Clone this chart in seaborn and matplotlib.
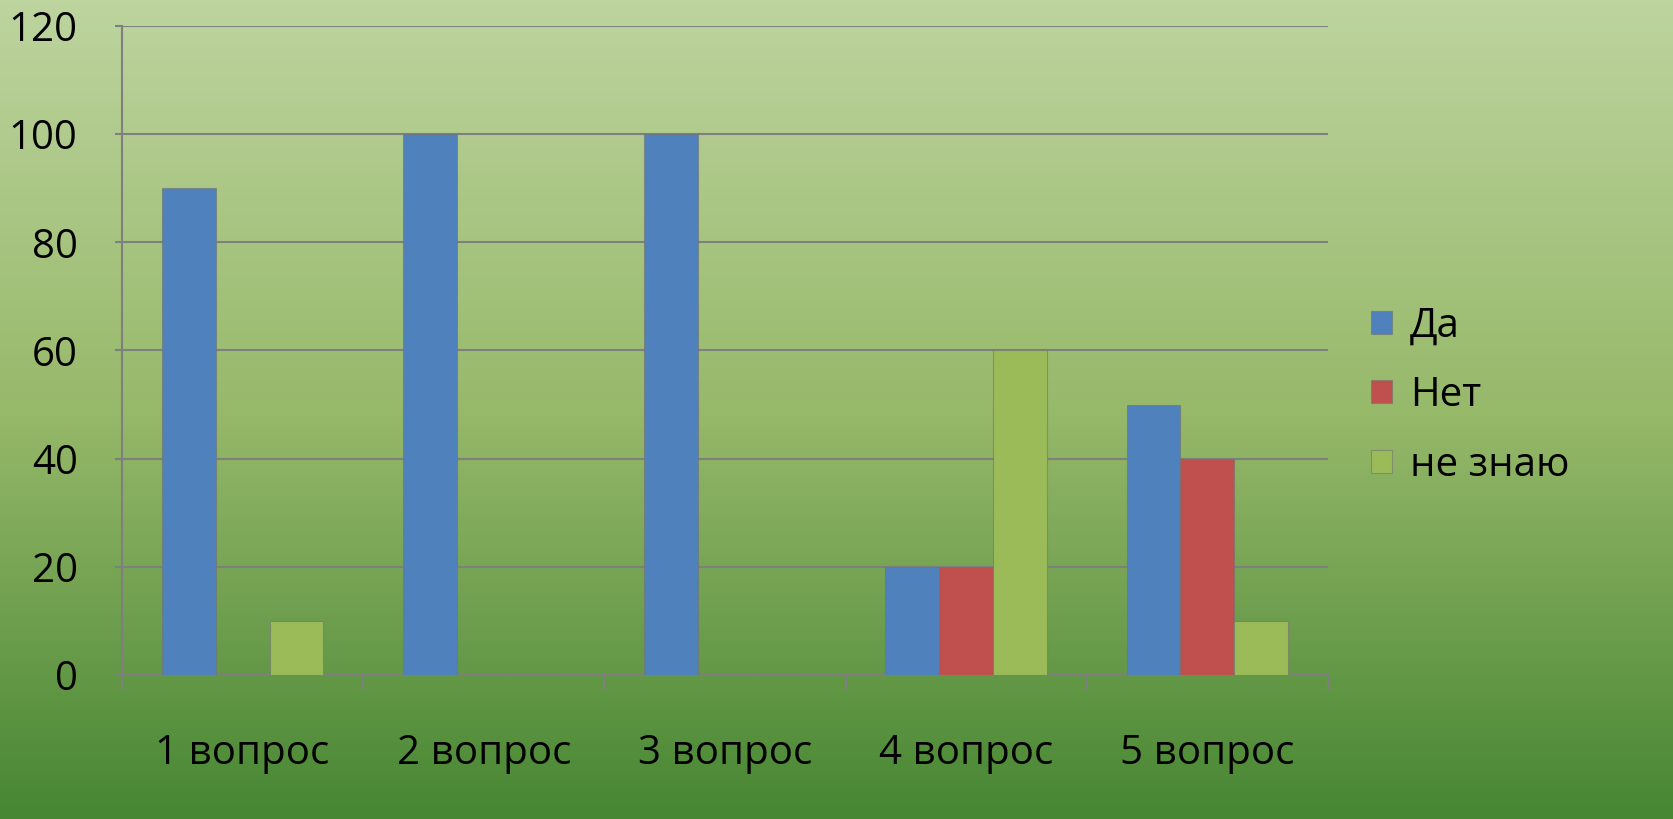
import numpy as np
import pandas as pd
import matplotlib
matplotlib.use("Agg")
import matplotlib.pyplot as plt
from matplotlib.colors import LinearSegmentedColormap
import seaborn as sns

# survey answers, percent
questions = ["1 вопрос", "2 вопрос", "3 вопрос", "4 вопрос", "5 вопрос"]
answers = ["Да", "Нет", "не знаю"]
yes_values = [90, 100, 100, 20, 50]
no_values = [0, 0, 0, 20, 40]
dunno_values = [10, 0, 0, 60, 10]
y_ticks = [0, 20, 40, 60, 80, 100, 120]

palette = ["#4f81bd", "#c0504d", "#9bbb59"]

df = pd.DataFrame({
    "question": questions * 3,
    "answer": [a for a in answers for _ in questions],
    "value": yes_values + no_values + dunno_values,
})

sns.set_theme(style="white")
plt.rcParams["font.family"] = ["Open Sans", "DejaVu Sans"]
plt.rcParams["text.color"] = "black"

fig = plt.figure(figsize=(16.73, 8.19), dpi=100)

# gradient backdrop, light green at top to dark green at bottom
bg = fig.add_axes([0, 0, 1, 1], zorder=-10)
grad = LinearSegmentedColormap.from_list("bg", ["#bdd49f", "#97b96a", "#478633"])
bg.imshow(np.linspace(0, 1, 256).reshape(-1, 1), aspect="auto", cmap=grad,
          extent=[0, 1, 0, 1], origin="upper")
bg.set_axis_off()

ax = fig.add_axes([0.0729, 0.1758, 0.7209, 0.7925])
ax.set_facecolor("none")

sns.barplot(data=df, x="question", y="value", hue="answer", hue_order=answers,
            palette=palette, width=0.67, saturation=1, ax=ax,
            edgecolor=(0.45, 0.45, 0.45, 0.6), linewidth=0.8, zorder=3)

ax.set_ylim(0, 120)
ax.set_xlim(-0.5, len(questions) - 0.5)
ax.set_yticks(y_ticks)
ax.set_yticklabels([str(t) for t in y_ticks])
ax.yaxis.grid(True, color="#7f7f7f", linewidth=1.5, zorder=0)
ax.set_axisbelow(True)

# tick marks between categories, labels centred under groups
ax.set_xticks(np.arange(-0.5, len(questions), 1.0))
ax.set_xticklabels([""] * (len(questions) + 1))
ax.set_xticks(np.arange(len(questions)), minor=True)
ax.set_xticklabels(questions, minor=True)
ax.tick_params(axis="x", which="major", length=11, width=1.5, color="#7f7f7f", bottom=True)
ax.tick_params(axis="x", which="minor", length=0, pad=42, labelsize=29, colors="black")
ax.tick_params(axis="y", length=5, width=1.5, color="#7f7f7f", left=True, pad=27,
               labelsize=29, labelcolor="black")

for side in ["top", "right"]:
    ax.spines[side].set_visible(False)
for side in ["left", "bottom"]:
    ax.spines[side].set_color("#7f7f7f")
    ax.spines[side].set_linewidth(1.5)

ax.set_xlabel("")
ax.set_ylabel("")

handles, labels = ax.get_legend_handles_labels()
leg = ax.legend(handles, labels, loc="center left", bbox_to_anchor=(1.036, 0.43),
                frameon=False, fontsize=29, handlelength=0.5, handleheight=0.5,
                handletextpad=0.45, labelspacing=0.72, borderpad=0, borderaxespad=0)
for t in leg.get_texts():
    t.set_color("black")

fig.savefig("out.png", dpi=100)
